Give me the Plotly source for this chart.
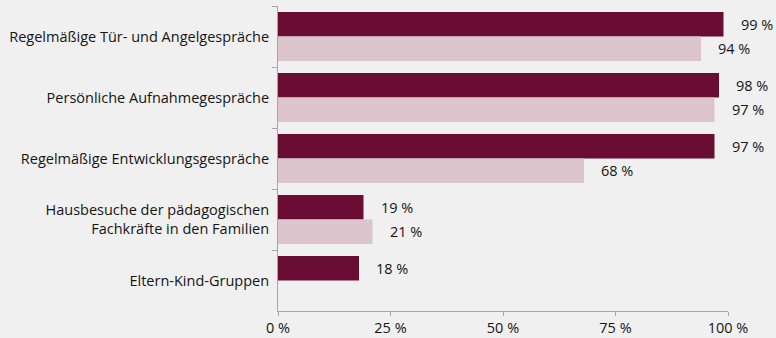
import plotly.graph_objects as go

categories = [
    "Regelmäßige Tür- und Angelgespräche",
    "Persönliche Aufnahmegespräche",
    "Regelmäßige Entwicklungsgespräche",
    "Hausbesuche der pädagogischen<br>Fachkräfte in den Familien",
    "Eltern-Kind-Gruppen",
]
series_dark = [99, 98, 97, 19, 18]
series_light = [94, 97, 68, 21, None]
x_tickvals = [0, 25, 50, 75, 100]
x_ticktext = ["0 %", "25 %", "50 %", "75 %", "100 %"]

DARK = "#690D35"
LIGHT = "#DCC5CC"
BG = "#F0F0F0"
AXIS = "#A6A6A6"
TXT = "#151515"
FONT = "Open Sans"
FS = 14.5

fig = go.Figure()
fig.add_trace(go.Bar(y=categories, x=series_dark, orientation="h",
                     marker=dict(color=DARK, line=dict(width=0)), name="dark",
                     hoverinfo="skip"))
fig.add_trace(go.Bar(y=categories, x=series_light, orientation="h",
                     marker=dict(color=LIGHT, line=dict(width=0)), name="light",
                     hoverinfo="skip"))

annotations = []
for cat, v in zip(categories, series_dark):
    if v is not None:
        annotations.append(dict(x=v, y=cat, xref="x", yref="y", text=f"{v} %",
                                showarrow=False, xanchor="left", yanchor="middle",
                                xshift=15, yshift=12,
                                font=dict(family=FONT, size=FS, color=TXT)))
for cat, v in zip(categories, series_light):
    if v is not None:
        annotations.append(dict(x=v, y=cat, xref="x", yref="y", text=f"{v} %",
                                showarrow=False, xanchor="left", yanchor="middle",
                                xshift=15, yshift=-12,
                                font=dict(family=FONT, size=FS, color=TXT)))

fig.update_layout(
    width=776, height=338,
    margin=dict(l=278, r=48, t=6, b=27),
    paper_bgcolor=BG, plot_bgcolor=BG,
    barmode="group", bargap=0.2, bargroupgap=0,
    showlegend=False,
    font=dict(family=FONT, size=FS, color=TXT),
    annotations=annotations,
)
fig.update_xaxes(range=[0, 100], tickvals=x_tickvals, ticktext=x_ticktext,
                 showgrid=False, zeroline=False, showline=True, linecolor=AXIS,
                 linewidth=1, ticks="outside", ticklen=4, tickcolor=AXIS,
                 ticklabelstandoff=0,
                 tickfont=dict(family=FONT, size=FS, color=TXT), automargin=False)
fig.update_yaxes(autorange="reversed", showgrid=False, zeroline=False,
                 showline=True, linecolor=AXIS, linewidth=1, ticks="outside",
                 ticklen=5, tickcolor=AXIS, tickson="boundaries",
                 ticklabelstandoff=5,
                 tickfont=dict(family=FONT, size=FS, color=TXT), automargin=False)

fig.write_html("out.html")
